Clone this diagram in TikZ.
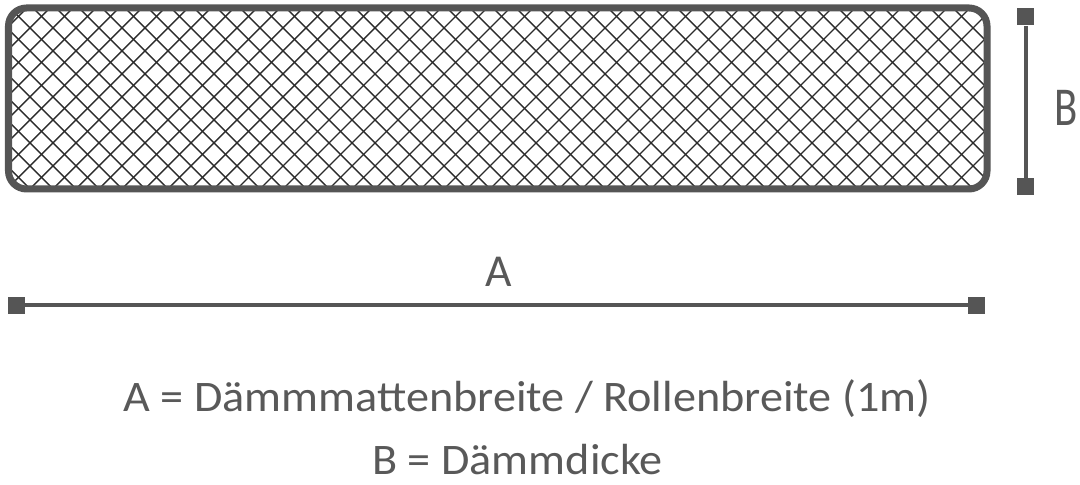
\documentclass[tikz,border=0pt]{standalone}
\usepackage{fontspec}
\setmainfont{Carlito}
\usetikzlibrary{arrows.meta}
\definecolor{framegray}{HTML}{555555}
\definecolor{textgray}{HTML}{595959}
\definecolor{hatchgray}{HTML}{2B2B2B}

\begin{document}
\begin{tikzpicture}[x=0.025cm,y=0.025cm,
  endsq/.style={rectangle,fill=framegray,inner sep=0pt,minimum size=0.425cm},
  dimline/.style={draw=framegray,line width=0.1cm},
  hatchline/.style={draw=hatchgray,line width=1pt},
  lbl/.style={text=textgray,inner sep=0pt}]
  \useasboundingbox (0,0) rectangle (1080,485);
  % hatched insulation mat
  \begin{scope}
    \clip[rounded corners=0.45cm] (8.5,296) rectangle (987,477);
    \foreach \c in {-200,-177,...,1200}{
      \draw[hatchline] (\c,296) -- ++(181,181);
      \draw[hatchline] (\c,296) -- ++(-181,181);
    }
  \end{scope}
  \draw[draw=framegray,line width=0.175cm,rounded corners=0.45cm]
    (8.5,296) rectangle (987,477);
  % dimension B
  \node[endsq](b1) at (1025.5,468){};
  \node[endsq](b2) at (1025.5,298){};
  \draw[dimline] (b1) -- (b2);
  \node[lbl,xscale=0.78](blabel) at (1066,377){\fontsize{39pt}{39pt}\selectfont B};
  % dimension A
  \node[lbl](alabel) at (499,213){\fontsize{32.5pt}{32.5pt}\selectfont A};
  \node[endsq](a1) at (16.5,179.5){};
  \node[endsq](a2) at (976.5,179.5){};
  \draw[dimline] (a1) -- (a2);
  % legend
  \node[lbl,anchor=base,xscale=1.06](legA) at (527,73)
    {\fontsize{31pt}{31pt}\selectfont A = Dämmmattenbreite / Rollenbreite (1m)};
  \node[lbl,anchor=base,xscale=1.06](legB) at (517.5,10)
    {\fontsize{31pt}{31pt}\selectfont B = Dämmdicke};
\end{tikzpicture}
\end{document}
